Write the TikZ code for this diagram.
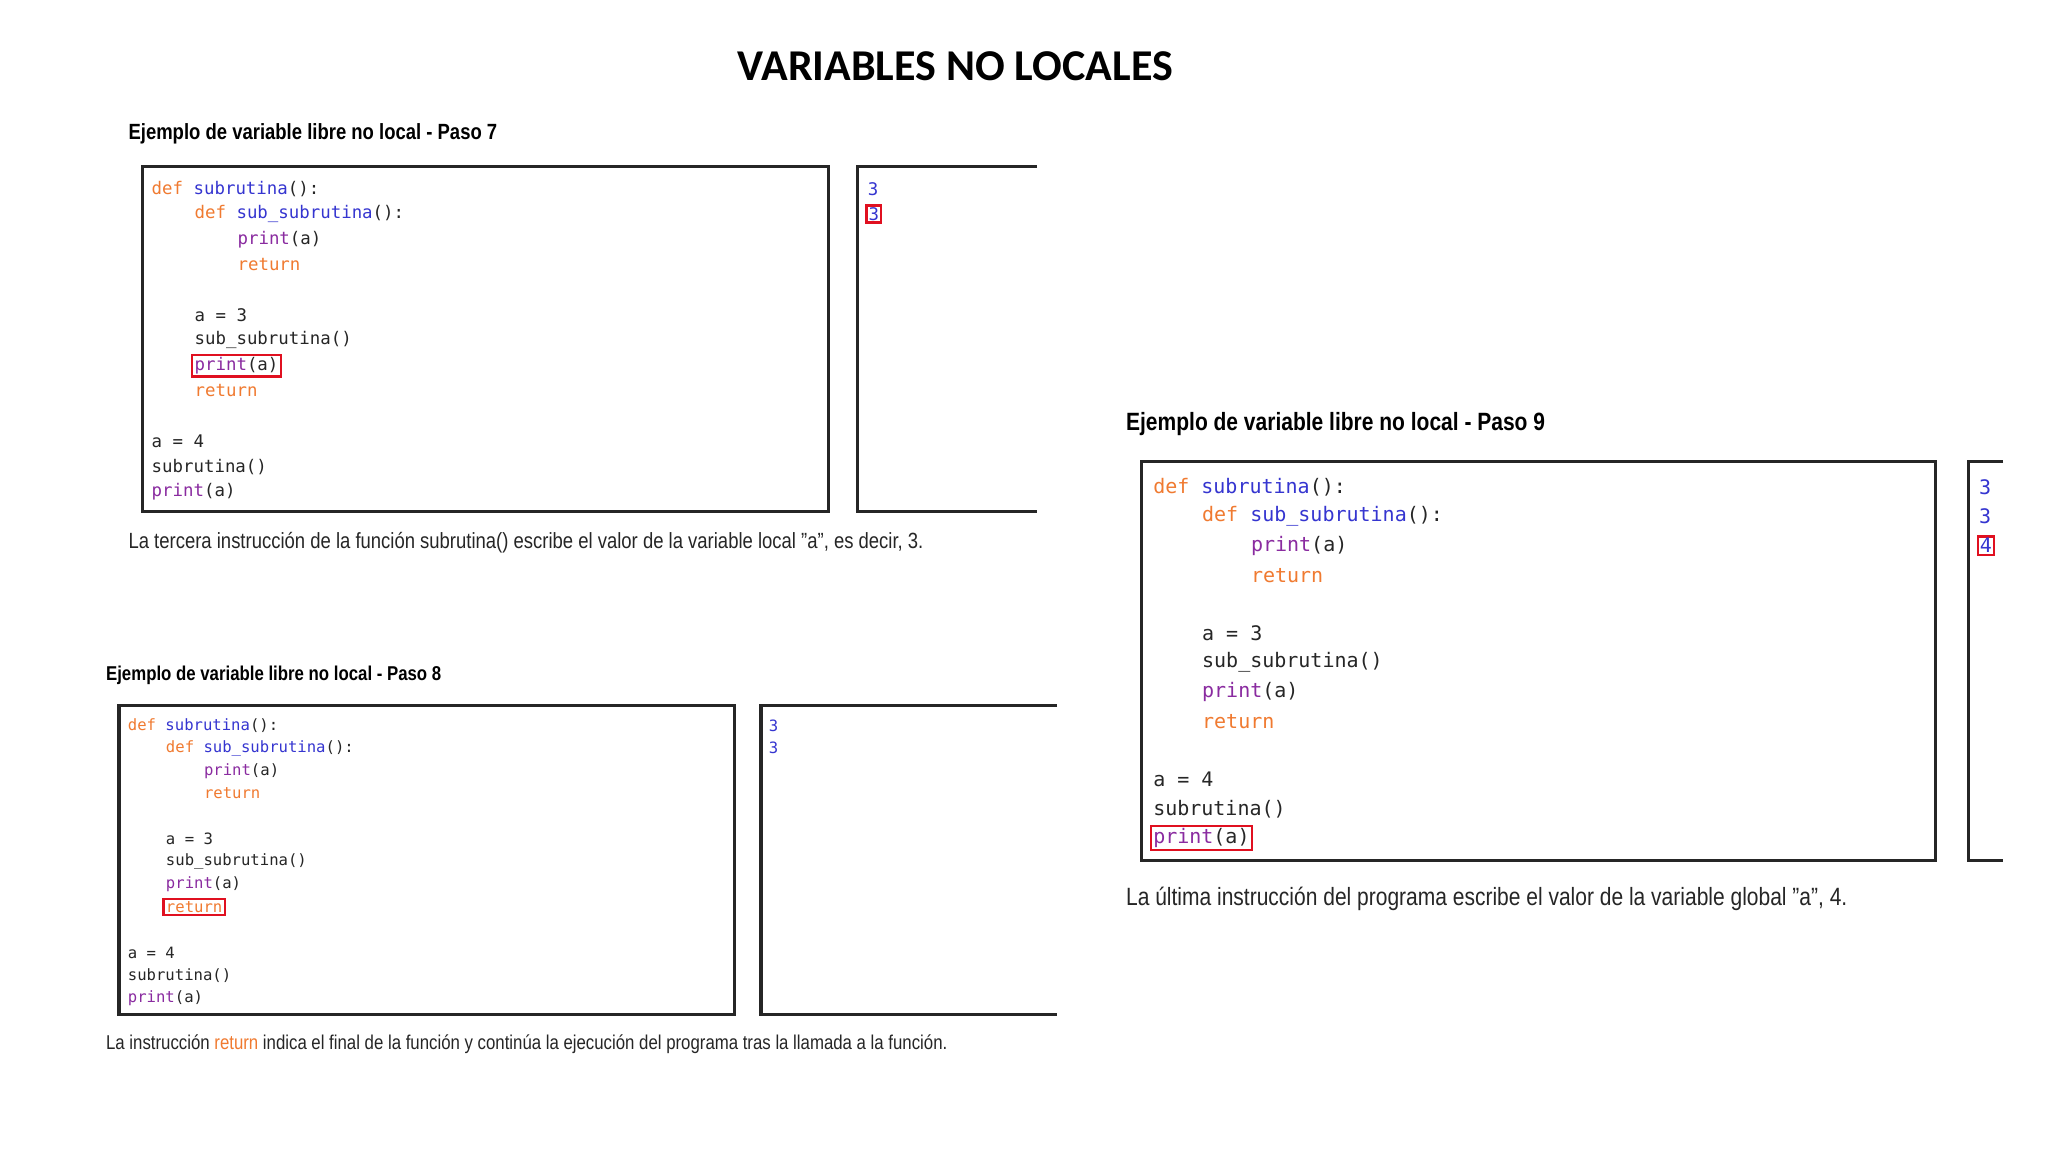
\documentclass[tikz,border=0pt]{standalone}
\usepackage{fontspec}
\setmainfont{Liberation Sans}
\newfontfamily\titlefont{Carlito}
\newfontfamily\codefont{DejaVu Sans Mono}
\usepackage{graphicx}
\definecolor{kw}{HTML}{F07A30}
\definecolor{fn}{HTML}{3535D0}
\definecolor{pr}{HTML}{8A2BA0}
\definecolor{tx}{HTML}{262626}
\definecolor{hl}{HTML}{E01020}
\newcommand\sq[1]{\scalebox{0.84}[1]{#1}}
\newcommand\cK[1]{\textcolor{kw}{#1}}
\newcommand\cF[1]{\textcolor{fn}{#1}}
\newcommand\cP[1]{\textcolor{pr}{#1}}
% #1 prefix, #2 x, #3 y0, #4 dy, #5 indent, #6 font size
\newcommand\codeblk[6]{%
  \begin{scope}[every node/.style={anchor=west,inner sep=1pt,text=tx,font=\codefont\fontsize{#6}{#6}\selectfont}]
  \node (#1l1) at (#2,#3) {\cK{def} \cF{subrutina}():};
  \node (#1l2) at ({#2+#5},{#3+#4}) {\cK{def} \cF{sub\_subrutina}():};
  \node (#1l3) at ({#2+2*#5},{#3+2*#4}) {\cP{print}(a)};
  \node (#1l4) at ({#2+2*#5},{#3+3*#4}) {\cK{return}};
  \node (#1l6) at ({#2+#5},{#3+5*#4}) {a = 3};
  \node (#1l7) at ({#2+#5},{#3+6*#4}) {sub\_subrutina()};
  \node (#1l8) at ({#2+#5},{#3+7*#4}) {\cP{print}(a)};
  \node (#1l9) at ({#2+#5},{#3+8*#4}) {\cK{return}};
  \node (#1l11) at (#2,{#3+10*#4}) {a = 4};
  \node (#1l12) at (#2,{#3+11*#4}) {subrutina()};
  \node (#1l13) at (#2,{#3+12*#4}) {\cP{print}(a)};
  \end{scope}}
\tikzset{frame/.style={draw=black!85,line width=1.6pt},
  redbox/.style={draw=hl,line width=1.2pt},
  headtext/.style={anchor=west,inner sep=0pt,font=\bfseries\fontsize{11}{11}\selectfont},
  captext/.style={anchor=west,inner sep=0pt,text=tx,font=\fontsize{11}{11}\selectfont},
  outnum/.style={anchor=west,inner sep=1pt,text=fn}}
\begin{document}
\begin{tikzpicture}[x=0.6607pt,y=-0.6607pt]
\useasboundingbox[fill=white] (0,0) rectangle (1550,872);
\node[font=\titlefont\bfseries\fontsize{22}{22}\selectfont] (title) at (723,50) {VARIABLES NO LOCALES};
% Paso 7
\node[headtext] (h7) at (97,101) {\sq{Ejemplo de variable libre no local - Paso 7}};
\draw[frame] (108,126) rectangle (627,387);
\draw[frame] (785,126) -- (649,126) -- (649,387) -- (785,387);
\codeblk{a}{113}{143}{19.1}{32.5}{8.7}
\draw[redbox] (al8.south west) rectangle (al8.north east);
\node[outnum,font=\codefont\fontsize{8.7}{8.7}\selectfont] (o7a) at (655,143) {3};
\node[outnum,font=\codefont\fontsize{8.7}{8.7}\selectfont,draw=hl,line width=1.2pt] (o7b) at (655,162) {3};
\node[captext] (c7) at (97,411) {\sq{La tercera instrucción de la función subrutina() escribe el valor de la variable local "a", es decir, 3.}};
% Paso 8
\node[headtext,font=\bfseries\fontsize{10}{10}\selectfont] (h8) at (80,511) {\sq{Ejemplo de variable libre no local - Paso 8}};
\draw[frame] (90,534) rectangle (556,768);
\draw[frame] (800,534) -- (576,534) -- (576,768) -- (800,768);
\codeblk{b}{95}{549}{17.2}{28.8}{7.8}
\draw[redbox] (bl9.south west) rectangle (bl9.north east);
\node[outnum,font=\codefont\fontsize{7.8}{7.8}\selectfont] (o8a) at (580,549) {3};
\node[outnum,font=\codefont\fontsize{7.8}{7.8}\selectfont] (o8b) at (580,566) {3};
\node[captext,font=\fontsize{10}{10}\selectfont] (c8) at (80,790) {\sq{La instrucción \textcolor{kw}{return} indica el final de la función y continúa la ejecución del programa tras la llamada a la función.}};
% Paso 9
\node[headtext,font=\bfseries\fontsize{12.5}{12.5}\selectfont] (h9) at (852,321) {\sq{Ejemplo de variable libre no local - Paso 9}};
\draw[frame] (864,349) rectangle (1465,651);
\draw[frame] (1516,349) -- (1490,349) -- (1490,651) -- (1516,651);
\codeblk{c}{871}{369}{22.1}{37}{10}
\draw[redbox] (cl13.south west) rectangle (cl13.north east);
\node[outnum,font=\codefont\fontsize{10}{10}\selectfont] (o9a) at (1496,369) {3};
\node[outnum,font=\codefont\fontsize{10}{10}\selectfont] (o9b) at (1496,391) {3};
\node[outnum,font=\codefont\fontsize{10}{10}\selectfont,draw=hl,line width=1.2pt] (o9c) at (1496,413) {4};
\node[captext,font=\fontsize{12.5}{12.5}\selectfont] (c9) at (852,680) {\sq{La última instrucción del programa escribe el valor de la variable global "a", 4.}};
\end{tikzpicture}
\end{document}
